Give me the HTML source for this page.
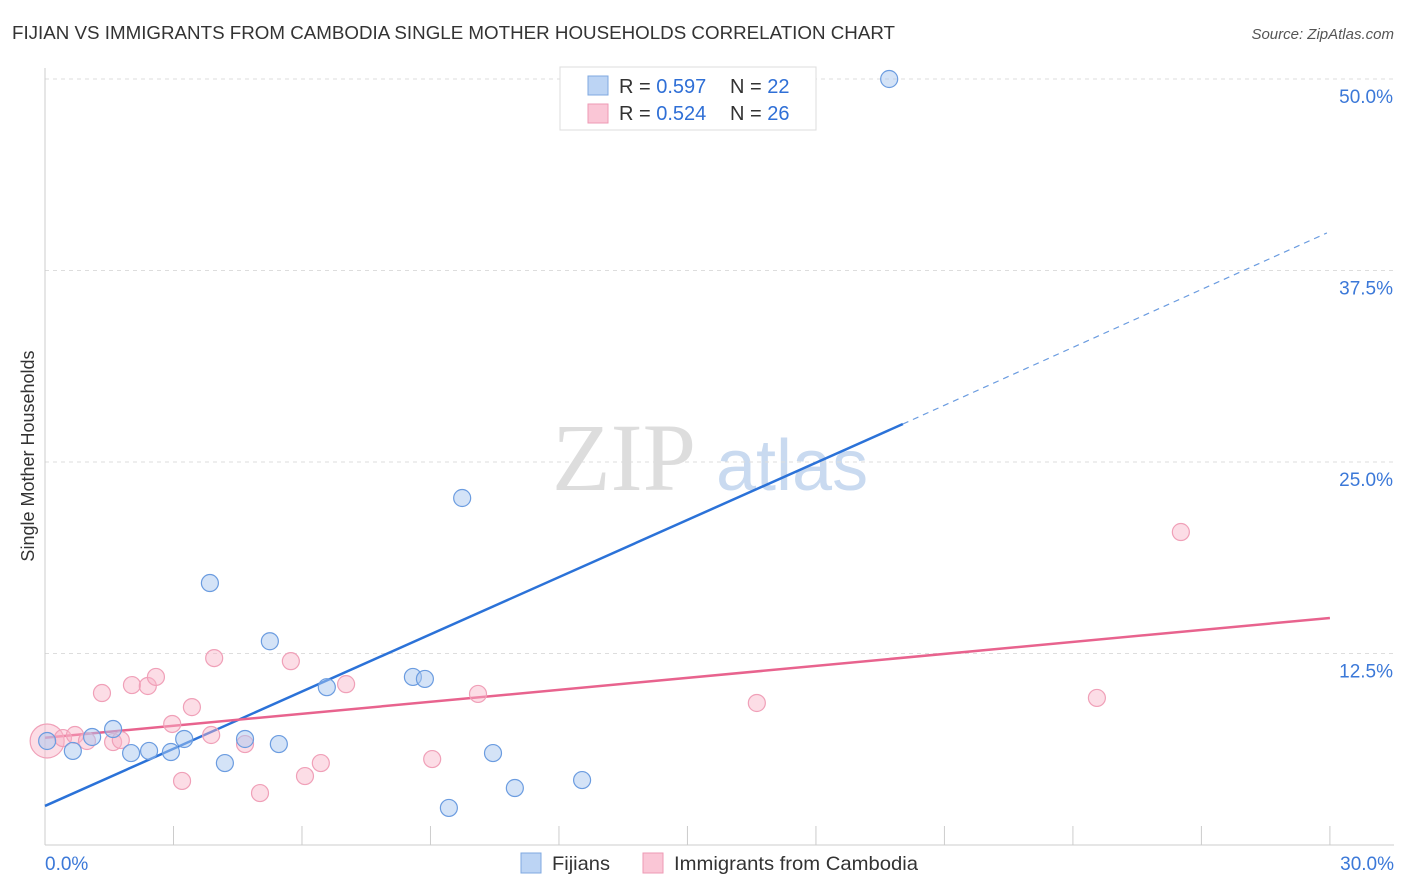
<!DOCTYPE html>
<html><head><meta charset="utf-8"><style>
body{margin:0;background:#fff;font-family:"Liberation Sans",sans-serif;}
svg{display:block}
</style></head><body>
<svg id="c" width="1406" height="892">
<text x="12" y="39" font-size="18" fill="#333" textLength="883" lengthAdjust="spacingAndGlyphs">FIJIAN VS IMMIGRANTS FROM CAMBODIA SINGLE MOTHER HOUSEHOLDS CORRELATION CHART</text>
<text x="1394" y="39" font-size="15" fill="#555" font-style="italic" text-anchor="end">Source: ZipAtlas.com</text>
<text transform="translate(34,456) rotate(-90)" font-size="18" fill="#333" text-anchor="middle">Single Mother Households</text>
<g><text x="552" y="490" font-size="96" font-family="Liberation Serif,serif" fill="#ddd">ZIP</text><text x="716" y="490" font-size="72" fill="#c9daf0">atlas</text></g>
<g id="grid"></g><g id="axes"></g><g id="trend"></g><g id="pts"></g>
<g>
<rect x="560" y="67" width="256" height="63" fill="#fff" stroke="#ddd"/>
<rect x="588" y="76" width="20" height="19" fill="#bcd4f4" stroke="#7fa8e0"/>
<rect x="588" y="104" width="20" height="19" fill="#fac6d6" stroke="#ee9ab4"/>
<text x="619" y="93" font-size="20" fill="#333">R = <tspan fill="#2f6fd6">0.597</tspan><tspan x="730">N = </tspan><tspan fill="#2f6fd6">22</tspan></text>
<text x="619" y="120" font-size="20" fill="#333">R = <tspan fill="#2f6fd6">0.524</tspan><tspan x="730">N = </tspan><tspan fill="#2f6fd6">26</tspan></text>
</g>
<g>
<rect x="521" y="853" width="20" height="20" fill="#bcd4f4" stroke="#7fa8e0"/>
<text x="552" y="870" font-size="19.5" fill="#333" textLength="58" lengthAdjust="spacingAndGlyphs">Fijians</text>
<rect x="643" y="853" width="20" height="20" fill="#fac6d6" stroke="#ee9ab4"/>
<text x="674" y="870" font-size="19.5" fill="#333" textLength="244" lengthAdjust="spacingAndGlyphs">Immigrants from Cambodia</text>
</g>
</svg>
<script>
const yTicks=[12.5,25,37.5,50];
const yTickLabels=["12.5%","25.0%","37.5%","50.0%"];
const xTicks=[0,3,6,9,12,15,18,21,24,27,30];
const fijX=[0.05,0.65,1.10,1.59,2.01,2.43,2.94,3.25,3.85,4.20,4.67,5.25,5.46,6.58,8.59,8.87,9.43,9.74,10.46,10.97,12.54,19.71];
const fijY=[6.79,6.14,7.05,7.57,6.0,6.14,6.07,6.92,17.1,5.35,6.92,13.3,6.59,10.3,10.97,10.84,2.42,22.65,6.0,3.72,4.24,50.0];
const camX=[0.05,0.42,0.70,0.98,1.33,1.59,1.77,2.03,2.40,2.59,2.97,3.20,3.43,3.88,3.95,4.67,5.02,5.74,6.07,6.44,7.03,9.04,10.11,16.62,24.56,26.52];
const camY=[6.79,6.98,7.18,6.79,9.92,6.72,6.85,10.44,10.38,10.97,7.9,4.18,9.0,7.18,12.2,6.59,3.39,12.0,4.5,5.35,10.5,5.61,9.86,9.27,9.6,20.43];
const fijTrendX=[0,20.03,29.93];
const fijTrendY=[2.55,27.48,39.95];
const camTrendX=[0,30];
const camTrendY=[7.0,14.82];
const X=v=>45+v*42.83, Y=v=>845-v*15.32;
const NS="http://www.w3.org/2000/svg";
function mk(p,t,a){const e=document.createElementNS(NS,t);for(const k in a)e.setAttribute(k,a[k]);p.appendChild(e);return e;}
const grid=document.getElementById('grid'),axes=document.getElementById('axes'),trend=document.getElementById('trend'),pts=document.getElementById('pts');
yTicks.forEach((v,i)=>{
 const l=mk(grid,'line',{x1:45,x2:1394,y1:Y(v),y2:Y(v),stroke:'#ddd','stroke-dasharray':'4,4'});
 
 
 const t=mk(grid,'text',{x:1393,y:Y(v)+24,'font-size':19,fill:'#3b78d8','text-anchor':'end'});t.textContent=yTickLabels[i];
 
 
});
mk(axes,'line',{x1:45,x2:45,y1:68,y2:845,stroke:'#ccc'});
mk(axes,'line',{x1:45,x2:1394,y1:845,y2:845,stroke:'#ccc'});
xTicks.forEach(v=>{const l=mk(axes,'line',{x1:X(v),x2:X(v),y1:826,y2:845,stroke:'#ccc'});
 
 });
const t0=mk(axes,'text',{x:45,y:870,'font-size':19,fill:'#3b78d8'});t0.textContent="0.0%";


const t1=mk(axes,'text',{x:1394,y:870,'font-size':19,fill:'#3b78d8','text-anchor':'end'});t1.textContent="30.0%";


function dot(x,y,r,f,s,n){const c=mk(pts,'circle',{cx:X(x),cy:Y(y),r:r,fill:f,stroke:s,'stroke-width':1.2});
 
 }
camX.forEach((x,i)=>dot(x,camY[i],i===0?17:8.5,'rgba(248,180,200,0.45)','#f0a0b8','cambodia-point'));
fijX.forEach((x,i)=>dot(x,fijY[i],8.5,'rgba(170,200,240,0.5)','#6b9ce0','fijian-point'));
const b1=mk(trend,'line',{x1:X(fijTrendX[0]),y1:Y(fijTrendY[0]),x2:X(fijTrendX[1]),y2:Y(fijTrendY[1]),stroke:'#2b72d8','stroke-width':2.5});


const b2=mk(trend,'line',{x1:X(fijTrendX[1]),y1:Y(fijTrendY[1]),x2:X(fijTrendX[2]),y2:Y(fijTrendY[2]),stroke:'#6b9ce0','stroke-width':1.2,'stroke-dasharray':'6,5'});


const p1=mk(trend,'line',{x1:X(camTrendX[0]),y1:Y(camTrendY[0]),x2:X(camTrendX[1]),y2:Y(camTrendY[1]),stroke:'#e8638e','stroke-width':2.5});


</script>
</body></html>
